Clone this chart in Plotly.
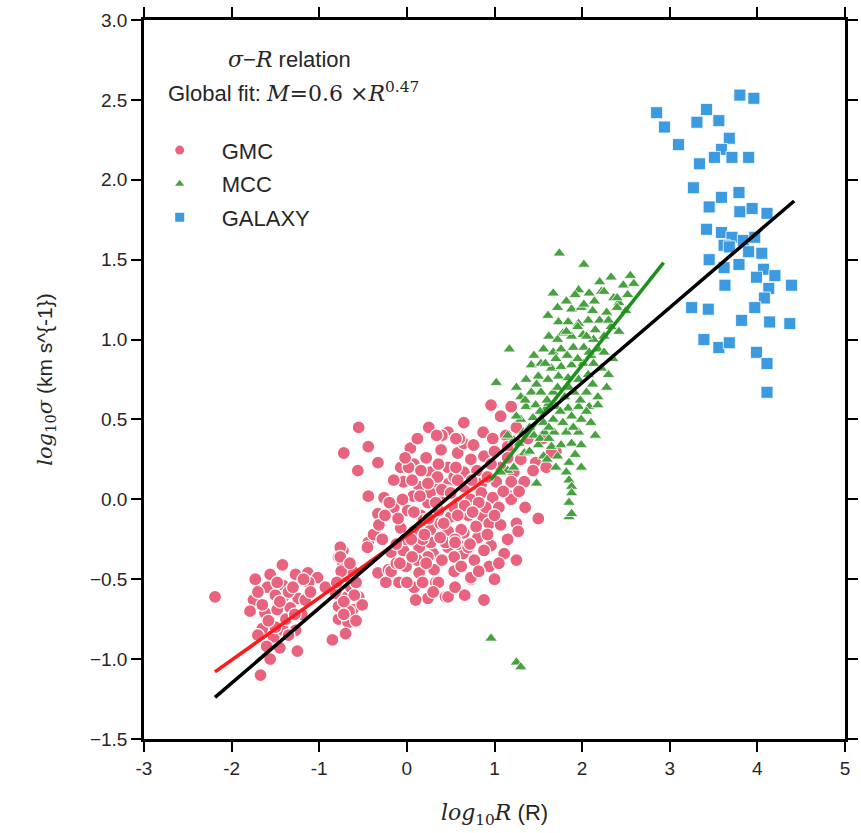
import plotly.graph_objects as go

# ---------------- data ----------------
gmc_x = [-2.19,-1.73,-1.56,-1.42,-1.27,-1.13,-1.02,-1.59,-1.41,-1.41,-1.24,-1.75,-1.79,-1.62,-1.48,-1.33,-1.65,-1.52,-1.41,-1.27,-1.25,-1.56,-1.67,-0.85,-1.50,-1.12,-1.16,-0.93,
         -1.35,-1.50,-1.20,-1.38,-1.60,
         -0.73,-0.78,-0.73,-0.81,-0.68,-0.55,-0.78,-0.62,-0.78,-0.67,-0.70,-0.51,-0.76,-0.76,-0.64,-0.70,-0.62,-0.58,-0.66,
         -0.44,-0.33,-0.21,-0.24,-0.45,-0.38,-0.33,-0.32,-0.44,-0.26,-0.18,-0.18,-0.09,
         -0.55,-0.44,-0.72,-0.33,-0.56,
         0.25,0.65,0.47,0.87,0.04,0.39,0.22,0.58,0.73,-0.07,0.08,0.27,0.47,0.65,-0.04,0.14,0.31,0.48,0.65,0.81,0.07,0.24,0.41,0.58,0.73,
         0.01,0.16,0.35,0.50,0.70,0.87,-0.07,0.08,0.27,0.47,0.65,0.81,-0.04,0.14,0.30,0.47,0.64,0.77,-0.01,0.14,0.31,0.08,0.24,0.10,0.44,0.73,0.88,
         0.96,1.07,1.19,0.98,1.13,0.65,0.88,1.30,1.47,1.70,1.59,1.44,1.22,1.07,0.35,0.54,0.85,1.02,1.19,1.34,0.27,0.47,0.85,0.98,1.17,
         0.36,0.54,0.90,1.05,1.19,0.19,0.62,0.79,0.94,1.07,1.25,1.50,0.27,0.44,0.96,1.11,1.27,1.25,0.24,0.54,0.94,0.54,0.73,0.47,
         1.25,1.38,1.15,1.55,1.65,-0.15,-0.02,0.18,0.38,0.58,0.12,0.33,0.55,0.70,-0.12,0.02,0.40,0.60,
         0.12,0.34,0.56,0.76,1.00,-0.02,0.16,0.36,0.56,0.80,0.96,1.15,
         -0.15,0.06,0.24,0.40,0.58,0.74,0.92,1.10,1.28,
         -0.20,-0.05,0.15,0.33,0.50,0.66,0.82,1.00,1.35,
         -0.25,-0.10,0.08,0.25,0.42,0.58,0.75,0.92,1.15,
         -0.28,-0.12,0.05,0.20,0.38,0.55,0.72,0.88,1.05,
         -0.08,0.06,0.22,0.40,0.62,0.82,1.00,
         0.00,0.18,0.36,0.55,0.66,0.30,
         -1.70,-1.48,-1.30,-1.18,-1.65,-1.45,-1.28,-1.58,-1.35,-1.45,-1.70,-1.10,
         -0.75,-0.80,-0.60,-0.72,-0.58,-0.72,-0.65]
gmc_y = [-0.61,-0.50,-0.47,-0.41,-0.47,-0.46,-0.49,-0.55,-0.54,-0.61,-0.62,-0.63,-0.70,-0.71,-0.69,-0.68,-0.81,-0.86,-0.82,-0.82,-0.95,-1.00,-1.10,-0.88,-0.80,-0.52,-0.63,-0.55,
         -0.58,-0.60,-0.72,-0.75,-0.92,
         -0.32,-0.36,-0.40,-0.59,-0.61,-0.61,-0.67,-0.69,-0.75,-0.77,-0.84,-0.66,-0.30,-0.36,-0.55,-0.48,-0.45,-0.52,-0.70,
         -0.27,-0.46,-0.44,-0.52,-0.30,-0.22,-0.09,-0.16,0.02,0.01,-0.33,-0.45,-0.52,
         0.45,0.33,0.29,0.23,0.18,
         0.45,0.48,0.42,0.42,0.32,0.31,0.26,0.29,0.25,0.20,0.22,0.17,0.20,0.17,0.11,0.08,0.11,0.10,0.08,0.09,0.02,-0.02,0.02,-0.02,0.00,
         -0.07,-0.10,-0.09,-0.11,-0.10,-0.11,-0.18,-0.20,-0.19,-0.20,-0.21,-0.24,-0.32,-0.30,-0.34,-0.30,-0.34,-0.38,-0.42,-0.46,-0.44,-0.55,-0.62,-0.63,-0.61,-0.50,-0.63,
         0.59,0.52,0.58,0.38,0.40,0.35,0.27,0.25,0.23,0.30,0.20,0.18,0.17,0.20,0.14,0.14,0.10,0.11,0.11,0.11,0.04,0.05,0.04,0.01,0.02,
         -0.07,-0.05,-0.05,-0.05,0.00,-0.13,-0.19,-0.17,-0.15,-0.16,-0.15,-0.12,-0.27,-0.27,-0.29,-0.34,-0.20,-0.38,-0.36,-0.36,-0.42,-0.45,-0.49,-0.61,
         0.45,0.38,0.33,0.38,0.29,-0.05,-0.25,-0.25,-0.15,-0.28,-0.38,-0.52,-0.25,-0.30,-0.40,0.20,0.40,0.38,
         0.38,0.40,0.38,0.34,0.30,0.26,0.18,0.22,0.20,0.18,0.22,0.26,
         0.12,0.12,0.10,0.06,0.12,0.12,0.14,0.05,0.05,
         -0.02,0.00,0.02,-0.02,0.04,-0.04,-0.02,-0.10,-0.05,
         -0.10,-0.12,-0.08,-0.12,-0.15,-0.10,-0.08,-0.22,-0.25,
         -0.25,-0.28,-0.25,-0.22,-0.24,-0.27,-0.28,-0.32,-0.40,
         -0.40,-0.36,-0.40,-0.38,-0.42,-0.45,-0.50,
         -0.52,-0.52,-0.52,-0.55,-0.60,-0.58,
         -0.58,-0.52,-0.55,-0.50,-0.66,-0.64,-0.72,-0.76,-0.85,-0.93,-0.85,-0.58,
         -0.45,-0.52,-0.60,-0.64,-0.76,-0.72,-0.40]

mcc_x = [1.74,2.02,2.33,2.20,2.47,2.59,1.67,1.96,2.08,2.22,2.36,2.42,1.88,1.99,2.14,2.28,1.61,1.73,1.84,1.96,2.07,2.20,2.33,
         1.78,1.88,2.01,2.13,2.25,1.17,1.56,1.67,1.76,1.90,2.02,2.18,1.42,1.53,1.65,1.76,1.88,2.01,2.13,
         1.02,1.25,1.36,1.50,1.61,1.73,1.84,1.96,2.07,2.30,1.30,1.42,1.53,1.67,1.80,1.91,2.05,2.18,2.28,
         1.36,1.47,1.59,1.70,1.84,1.96,2.08,2.18,1.30,1.44,1.56,1.67,1.78,1.88,1.99,2.10,
         1.33,1.45,1.57,1.68,1.82,1.96,1.50,1.65,1.76,1.88,1.99,1.22,1.34,1.56,1.70,1.85,1.99,1.82,1.85,1.88,1.88,1.85,1.85,
         1.15,1.22,1.07,0.96,1.25,1.30,1.88,1.60,2.40,2.52,2.10,1.48,1.62,
         1.35,1.48,1.60,1.72,1.85,1.98,2.12,2.22,1.45,1.58,1.70,1.83,1.95,2.08,2.25,
         1.62,1.72,1.82,1.95,2.05,2.15,2.30,1.72,1.82,1.92,2.02,2.12,2.25,2.40,
         1.25,1.40,1.52,1.62,1.75,1.90,2.05,1.40,1.52,1.62,1.72,1.92,1.15,1.28,2.15,2.35,2.42,2.50,2.55]
mcc_y = [1.54,1.47,1.39,1.36,1.34,1.35,1.29,1.31,1.29,1.30,1.26,1.23,1.19,1.20,1.24,1.17,1.15,1.11,1.11,1.10,1.12,1.12,1.08,
         1.04,1.02,1.03,1.00,1.02,0.94,0.94,0.92,0.94,0.95,0.95,0.94,0.84,0.85,0.82,0.83,0.84,0.85,0.85,
         0.73,0.70,0.75,0.77,0.75,0.77,0.76,0.75,0.78,0.78,0.64,0.67,0.67,0.67,0.64,0.67,0.67,0.64,0.70,
         0.58,0.59,0.57,0.58,0.57,0.58,0.58,0.59,0.50,0.51,0.48,0.50,0.48,0.52,0.50,0.48,
         0.42,0.40,0.42,0.42,0.42,0.42,0.34,0.33,0.34,0.35,0.34,0.37,0.29,0.27,0.20,0.23,0.20,0.17,0.12,0.08,0.04,-0.02,-0.11,
         0.18,0.20,0.17,-0.87,-1.02,-1.05,-0.09,0.25,1.20,1.28,0.90,0.10,0.60,
         0.62,0.72,0.62,0.70,0.70,0.62,0.72,0.82,0.90,0.85,0.88,0.90,0.88,0.92,0.92,
         1.02,1.00,1.05,1.08,1.02,1.06,1.12,1.20,1.24,1.28,1.22,1.18,1.30,1.26,
         0.52,0.45,0.55,0.45,0.55,0.45,0.55,0.30,0.38,0.38,0.27,0.28,0.40,0.35,0.40,0.88,1.05,1.18,1.40]

gal_x = [3.80,3.96,2.85,3.42,2.94,3.31,3.56,3.68,3.10,3.59,3.51,3.71,3.90,3.34,3.27,3.59,3.79,3.45,3.80,3.94,4.11,3.42,3.59,3.71,
         3.62,3.68,3.84,3.97,3.90,4.05,3.45,3.62,3.79,4.07,4.20,3.63,3.99,4.13,4.08,3.25,3.44,3.97,3.82,4.14,3.39,3.56,3.68,3.99,
         4.11,4.11,4.39,4.37]
gal_y = [2.53,2.51,2.42,2.44,2.33,2.36,2.37,2.26,2.22,2.19,2.14,2.14,2.14,2.10,1.95,1.89,1.92,1.83,1.80,1.82,1.79,1.69,1.67,1.64,
         1.59,1.58,1.62,1.64,1.55,1.54,1.50,1.45,1.47,1.44,1.40,1.34,1.39,1.32,1.26,1.20,1.19,1.20,1.12,1.11,1.00,0.95,0.98,0.92,
         0.85,0.67,1.34,1.10]

# fit lines: [x_start, x_end], intercept, slope
fit_names = ["GMC fit", "MCC fit", "Global fit"]
fit_xrange = [[-2.19, 0.96], [0.96, 2.93], [-2.19, 4.42]]
fit_intercept = [-0.226, -0.54, -0.21]
fit_slope = [0.39, 0.69, 0.47]
fit_colors = ["#ff1a1a", "#1f8f1f", "#000000"]

x_ticks = [-3, -2, -1, 0, 1, 2, 3, 4, 5]
x_labels = ["-3", "-2", "-1", "0", "1", "2", "3", "4", "5"]
y_ticks = [-1.5, -1.0, -0.5, 0.0, 0.5, 1.0, 1.5, 2.0, 2.5, 3.0]
y_labels = ["\u22121.5", "\u22121.0", "\u22120.5", "0.0", "0.5", "1.0", "1.5", "2.0", "2.5", "3.0"]

# ---------------- figure ----------------
series = [
    ("GMC", gmc_x, gmc_y, "circle", 13, "#e8647e", 1.2, 9),
    ("MCC", mcc_x, mcc_y, "triangle-up", 11, "#48a040", 0.8, 8),
    ("GALAXY", gal_x, gal_y, "square", 12, "#3c9be0", 0.8, 9),
]
fig = go.Figure()
for name, xs, ys, sym, size, col, lw, lsize in series:
    fig.add_trace(go.Scatter(x=xs, y=ys, mode="markers", name=name, showlegend=False,
                             marker=dict(symbol=sym, size=size, color=col,
                                         line=dict(color="white", width=lw))))
for name, xr, b, m, c in zip(fit_names, fit_xrange, fit_intercept, fit_slope, fit_colors):
    fig.add_trace(go.Scatter(x=xr, y=[b + m * xv for xv in xr], mode="lines", name=name,
                             showlegend=False, line=dict(color=c, width=3.5)))
# legend entries (smaller symbols, as in the reference legend)
for i, (name, xs, ys, sym, size, col, lw, lsize) in enumerate(series):
    fig.add_trace(go.Scatter(x=[None], y=[None], mode="markers", name=name, legendgroup=f"g{i}",
                             marker=dict(symbol=sym, size=lsize, color=col)))

serif_i = "font-family:'DejaVu Serif';font-style:italic"
serif = "font-family:'DejaVu Serif'"
fig.add_annotation(xref="paper", yref="paper", x=0.208, y=0.9445, xanchor="center", yanchor="middle",
                   showarrow=False, font=dict(size=22, color="#262626", family="Liberation Sans"),
                   text=f"<span style=\"{serif_i}\">σ</span>\u2212<span style=\"{serif_i}\">R</span> relation")
fig.add_annotation(xref="paper", yref="paper", x=0.031, y=0.9, xanchor="left", yanchor="middle",
                   showarrow=False, font=dict(size=22, color="#262626", family="Liberation Sans"),
                   text=f"Global fit: <span style=\"{serif_i}\">M</span><span style=\"{serif}\">=0.6 ×</span>"
                        f"<span style=\"{serif_i}\">R</span><sup><span style=\"{serif}\">0.47</span></sup>")

axis_common = dict(showline=True, linewidth=2.5, linecolor="black", mirror="allticks",
                   ticks="outside", ticklen=10, tickwidth=2, tickcolor="black",
                   showgrid=False, zeroline=False, automargin=False,
                   tickfont=dict(size=19, color="#262626", family="Liberation Sans"))
fig.update_xaxes(range=[-3, 5], tickvals=x_ticks, ticktext=x_labels,
                 title=dict(text=f"<span style=\"{serif_i}\">log</span><sub><span style=\"{serif}\">10</span></sub>"
                                 f"<span style=\"{serif_i}\">R</span> (R)", standoff=28,
                            font=dict(size=22, color="#262626", family="Liberation Sans")),
                 **axis_common)
fig.update_yaxes(range=[-1.5, 3.0], tickvals=y_ticks, ticktext=y_labels,
                 title=dict(text=f"<span style=\"{serif_i}\">log</span><sub><span style=\"{serif}\">10</span></sub>"
                                 f"<span style=\"{serif_i}\">σ</span> (km s^{{-1}})", standoff=32,
                            font=dict(size=21, color="#262626", family="Liberation Sans")),
                 **axis_common)
fig.update_layout(width=861, height=833, plot_bgcolor="white", paper_bgcolor="white",
                  margin=dict(l=144, r=16, t=20, b=94),
                  legend=dict(x=-0.009, y=0.848, xanchor="left", yanchor="top",
                              font=dict(size=22, color="#262626", family="Liberation Sans"),
                              bgcolor="rgba(0,0,0,0)", tracegroupgap=2, itemwidth=74))
fig.write_html("out.html")
